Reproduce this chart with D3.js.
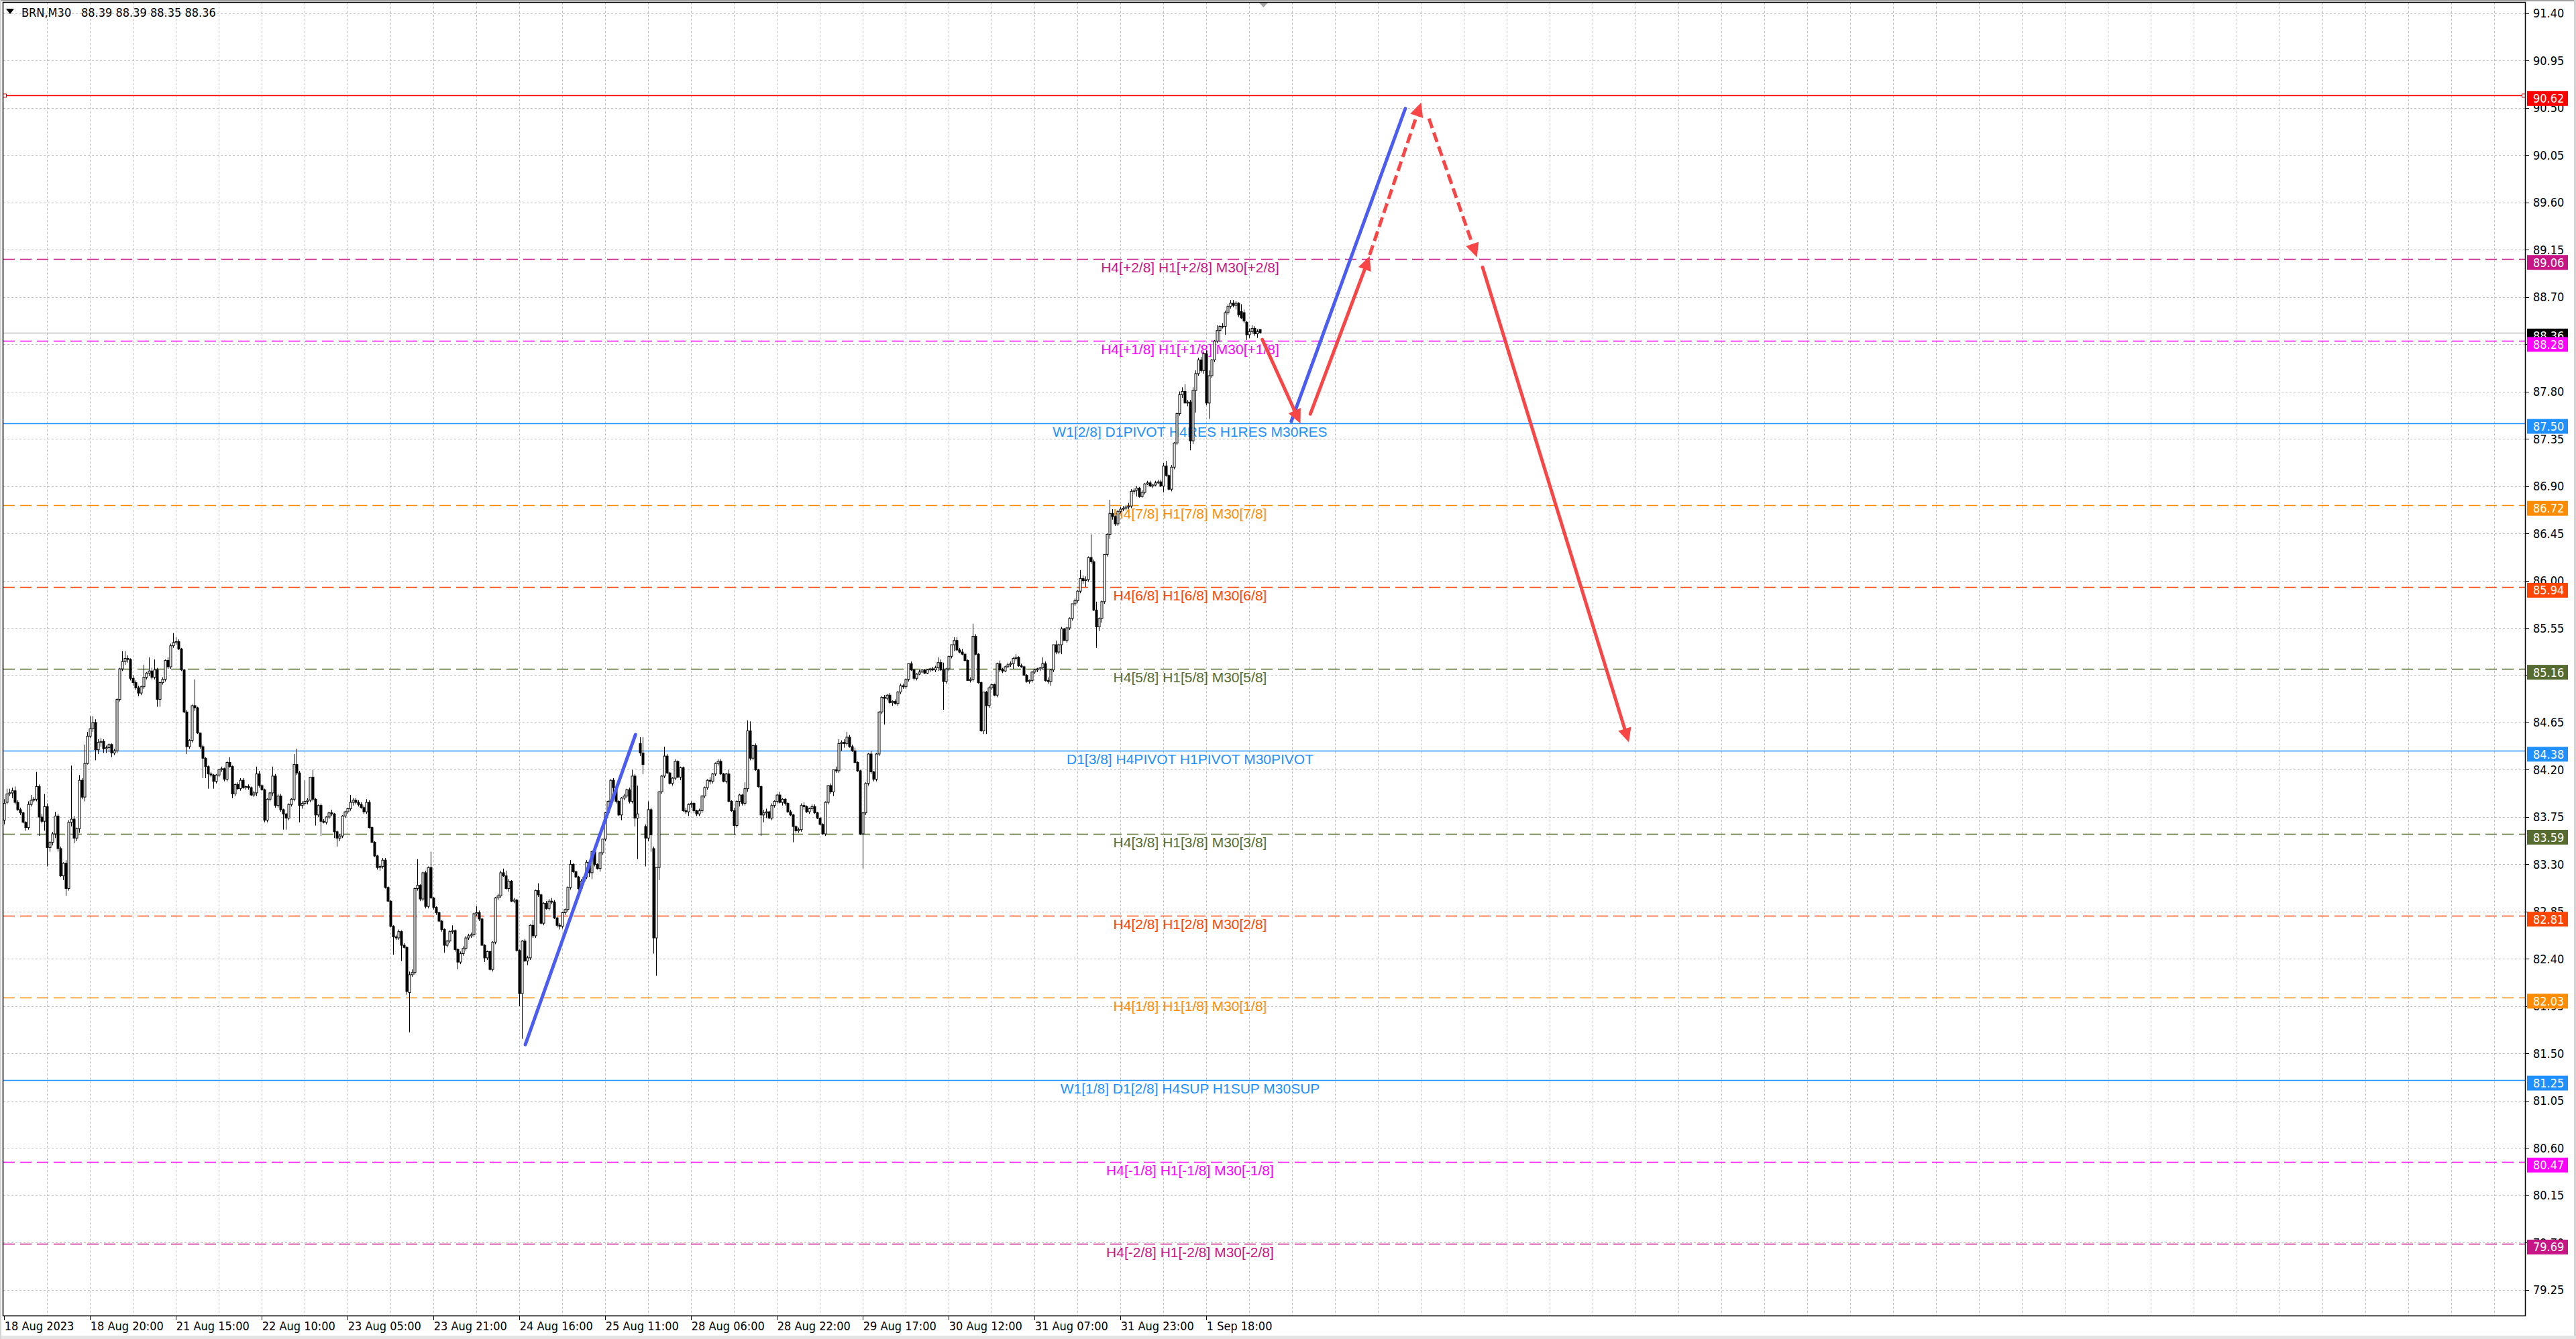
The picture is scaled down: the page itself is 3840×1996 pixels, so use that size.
<!DOCTYPE html>
<html>
<head>
<meta charset="utf-8">
<script src="https://cdn.jsdelivr.net/npm/d3@7"></script>
<style>
html, body { margin: 0; padding: 0; background: #fff; overflow: hidden; }
svg { display: block; }
</style>
</head>
<body>
<div id="chart"></div>
<script>
// BRN M30 candles, [open, high, low, close]
const bars = [
[83.72,83.92,83.68,83.88],[83.89,84.02,83.87,83.97],[83.97,84.02,83.95,83.98],[83.98,84.03,83.93,84.00],[84.00,84.04,83.87,83.89],
[83.89,83.91,83.81,83.82],[83.82,83.84,83.77,83.79],[83.79,83.80,83.69,83.70],[83.70,83.71,83.62,83.65],[83.65,83.90,83.63,83.87],
[83.87,83.96,83.85,83.91],[83.91,83.94,83.89,83.92],[83.92,84.18,83.90,84.04],[84.04,84.06,83.57,83.75],[83.75,83.78,83.69,83.71],
[83.71,83.97,83.62,83.85],[83.85,83.88,83.28,83.46],[83.46,83.52,83.42,83.51],[83.51,83.61,83.48,83.59],[83.59,83.80,83.55,83.76],
[83.76,83.78,83.42,83.45],[83.45,83.47,83.18,83.19],[83.19,83.32,83.15,83.31],[83.31,83.34,83.00,83.07],[83.07,83.72,83.05,83.70],
[83.70,84.24,83.66,83.73],[83.73,83.76,83.50,83.55],[83.55,83.65,83.52,83.64],[83.64,84.15,83.60,84.10],[84.10,84.12,83.92,83.94],
[83.94,84.44,83.90,84.26],[84.26,84.56,84.25,84.52],[84.52,84.71,84.50,84.59],[84.59,84.71,84.56,84.65],[84.65,84.68,84.29,84.39],
[84.39,84.49,84.35,84.46],[84.46,84.50,84.42,84.47],[84.47,84.49,84.36,84.40],[84.40,84.43,84.36,84.41],[84.41,84.45,84.37,84.44],
[84.44,84.45,84.32,84.36],[84.36,84.40,84.34,84.38],[84.38,84.88,84.36,84.87],[84.87,85.17,84.85,85.16],[85.16,85.33,85.14,85.23],
[85.23,85.33,85.20,85.26],[85.26,85.29,85.22,85.25],[85.25,85.26,85.05,85.07],[85.07,85.10,85.00,85.03],[85.03,85.05,84.96,84.98],
[84.98,85.00,84.90,84.93],[84.93,85.00,84.91,84.99],[84.99,85.20,84.97,85.08],[85.08,85.13,85.06,85.12],[85.12,85.27,85.09,85.14],
[85.14,85.17,85.06,85.08],[85.08,85.25,85.06,85.15],[85.15,85.17,84.80,84.87],[84.87,85.04,84.80,85.03],[85.03,85.08,85.01,85.06],
[85.06,85.25,85.04,85.24],[85.24,85.27,85.16,85.18],[85.18,85.40,85.16,85.38],[85.38,85.50,85.36,85.41],[85.41,85.46,85.39,85.42],
[85.42,85.44,85.34,85.35],[85.35,85.36,85.14,85.15],[85.15,85.16,84.74,84.75],[84.75,84.77,84.35,84.42],[84.42,84.49,84.40,84.48],
[84.48,84.82,84.46,84.81],[84.81,85.06,84.76,84.79],[84.79,84.80,84.54,84.55],[84.55,84.55,84.40,84.42],[84.42,84.44,84.12,84.31],
[84.31,84.32,84.12,84.23],[84.23,84.24,84.02,84.16],[84.16,84.18,84.13,84.15],[84.15,84.16,84.02,84.09],[84.09,84.16,84.07,84.15],
[84.15,84.21,84.13,84.20],[84.20,84.23,84.18,84.21],[84.21,84.22,84.09,84.11],[84.11,84.28,84.09,84.27],[84.27,84.32,84.22,84.23],
[84.23,84.24,83.93,83.97],[83.97,84.07,83.95,84.06],[84.06,84.08,84.01,84.02],[84.02,84.12,84.00,84.10],[84.10,84.12,84.02,84.03],
[84.03,84.05,84.01,84.04],[84.04,84.06,84.01,84.03],[84.03,84.04,83.95,83.96],[83.96,84.00,83.94,83.98],[83.98,84.23,83.95,84.16],
[84.16,84.19,84.03,84.05],[84.05,84.06,84.00,84.01],[84.01,84.02,83.70,83.72],[83.72,83.93,83.70,83.92],[83.92,83.99,83.90,83.98],
[83.98,84.23,83.95,84.14],[84.14,84.16,83.84,83.86],[83.86,83.97,83.84,83.95],[83.95,83.97,83.80,83.82],[83.82,83.83,83.63,83.78],
[83.78,83.79,83.63,83.74],[83.74,83.88,83.72,83.87],[83.87,83.93,83.85,83.92],[83.92,84.35,83.90,84.25],[84.25,84.40,84.15,84.17],
[84.17,84.19,83.70,83.86],[83.86,83.90,83.83,83.88],[83.88,84.10,83.86,83.90],[83.90,83.93,83.87,83.91],[83.91,84.13,83.89,84.13],
[84.13,84.20,83.90,83.92],[83.92,83.93,83.67,83.77],[83.77,83.87,83.75,83.86],[83.86,83.88,83.57,83.71],[83.71,83.73,83.69,83.70],
[83.70,83.76,83.68,83.75],[83.75,83.80,83.73,83.79],[83.79,83.82,83.76,83.78],[83.78,83.79,83.55,83.61],[83.61,83.62,83.47,83.55],
[83.55,83.59,83.52,83.57],[83.57,83.77,83.55,83.76],[83.76,83.81,83.74,83.80],[83.80,83.84,83.78,83.83],[83.83,83.96,83.81,83.89],
[83.89,83.93,83.86,83.91],[83.91,83.93,83.87,83.89],[83.89,83.91,83.85,83.87],[83.87,83.89,83.83,83.84],[83.84,83.86,83.78,83.80],
[83.80,83.92,83.78,83.89],[83.89,83.91,83.64,83.65],[83.65,83.66,83.50,83.51],[83.51,83.52,83.37,83.38],[83.38,83.39,83.25,83.27],
[83.27,83.30,83.24,83.28],[83.28,83.36,83.26,83.34],[83.34,83.36,83.07,83.08],[83.08,83.09,82.94,82.95],[82.95,82.96,82.70,82.71],
[82.71,82.72,82.44,82.61],[82.61,82.63,82.58,82.60],[82.60,82.68,82.58,82.66],[82.66,82.67,82.38,82.53],[82.53,82.55,82.50,82.51],
[82.51,82.52,82.06,82.09],[82.08,82.28,81.70,82.25],[82.25,82.30,82.23,82.27],[82.27,83.08,82.25,83.07],[83.07,83.35,83.05,83.10],
[83.10,83.11,82.95,82.97],[82.97,83.23,82.95,83.22],[83.22,83.24,82.88,82.90],[82.90,83.28,82.88,83.27],[83.27,83.42,82.97,82.98],
[82.98,82.99,82.87,82.89],[82.89,82.90,82.82,82.84],[82.84,82.85,82.75,82.76],[82.76,82.77,82.66,82.68],[82.68,82.69,82.46,82.53],
[82.53,82.58,82.51,82.57],[82.57,82.67,82.55,82.66],[82.66,82.72,82.64,82.67],[82.67,82.68,82.47,82.49],[82.49,82.50,82.30,82.37],
[82.37,82.47,82.35,82.45],[82.45,82.52,82.43,82.50],[82.50,82.62,82.48,82.60],[82.60,82.64,82.58,82.62],[82.62,82.65,82.60,82.63],
[82.63,82.84,82.61,82.83],[82.83,82.90,82.81,82.84],[82.84,82.86,82.76,82.78],[82.78,82.79,82.53,82.53],[82.53,82.54,82.37,82.41],
[82.41,82.48,82.39,82.47],[82.47,82.48,82.29,82.30],[82.30,82.57,82.28,82.56],[82.56,82.99,82.54,82.98],[82.98,83.02,82.96,83.00],
[83.00,83.24,82.98,83.22],[83.22,83.26,83.18,83.19],[83.19,83.24,83.06,83.07],[83.07,83.16,83.04,83.14],[83.14,83.15,82.94,82.95],
[82.95,82.98,82.93,82.96],[82.96,82.97,82.47,82.48],[82.48,82.49,81.95,82.07],[82.07,82.58,81.64,82.57],[82.57,82.59,82.37,82.38],
[82.38,82.43,82.34,82.41],[82.41,82.73,82.39,82.72],[82.72,82.77,82.60,82.62],[82.62,83.06,82.60,83.05],[83.05,83.12,82.99,83.01],
[83.01,83.02,82.73,82.74],[82.74,82.94,82.72,82.93],[82.93,82.95,82.87,82.88],[82.88,82.97,82.86,82.95],[82.95,82.98,82.92,82.94],
[82.94,82.96,82.78,82.79],[82.79,82.80,82.70,82.72],[82.72,82.74,82.68,82.71],[82.71,82.85,82.69,82.84],[82.84,82.88,82.82,82.87],
[82.87,83.09,82.85,83.08],[83.08,83.34,83.06,83.30],[83.30,83.31,83.22,83.23],[83.23,83.24,83.17,83.18],[83.18,83.19,83.06,83.07],
[83.07,83.16,83.05,83.14],[83.14,83.19,83.12,83.18],[83.18,83.34,83.16,83.32],[83.32,83.33,83.18,83.22],[83.22,83.43,83.16,83.42],
[83.42,83.44,83.28,83.30],[83.30,83.31,83.25,83.26],[83.26,83.42,83.23,83.41],[83.41,83.54,83.39,83.54],[83.54,83.80,83.52,83.79],
[83.79,83.91,83.77,83.90],[83.90,84.11,83.88,84.10],[84.10,84.12,83.93,84.03],[84.03,84.05,83.88,83.90],[83.90,83.91,83.76,83.77],
[83.77,83.94,83.72,83.93],[83.93,83.97,83.91,83.95],[83.95,84.02,83.93,84.01],[84.01,84.03,83.88,83.90],[83.90,84.20,83.88,84.14],
[84.14,84.16,83.66,83.74],[83.74,84.05,83.35,83.78],[84.45,84.51,84.33,84.36],[84.36,84.51,84.16,84.25],[83.66,83.68,83.28,83.55],
[83.55,83.90,83.52,83.82],[83.82,83.84,83.42,83.58],[83.45,83.47,82.45,82.60],[82.60,83.27,82.24,83.27],[83.27,84.00,83.15,83.99],
[83.99,84.15,83.97,84.14],[84.14,84.42,84.12,84.33],[84.33,84.35,84.16,84.17],[84.17,84.18,84.06,84.07],[84.07,84.13,84.05,84.12],
[84.12,84.30,84.10,84.28],[84.28,84.29,84.12,84.13],[84.13,84.23,84.10,84.22],[84.22,84.23,83.80,83.81],[83.81,83.84,83.78,83.80],
[83.80,83.88,83.76,83.87],[83.87,83.90,83.84,83.88],[83.88,83.89,83.79,83.81],[83.81,83.82,83.76,83.78],[83.78,83.83,83.76,83.81],
[83.81,83.96,83.79,83.95],[83.95,84.04,83.93,84.03],[84.03,84.11,84.01,84.10],[84.10,84.13,84.06,84.09],[84.09,84.17,84.07,84.16],
[84.16,84.27,84.14,84.26],[84.26,84.30,84.24,84.28],[84.28,84.30,84.15,84.16],[84.16,84.17,84.08,84.09],[84.09,84.17,84.07,84.16],
[84.16,84.20,83.89,83.90],[83.90,83.91,83.80,83.81],[83.81,83.84,83.58,83.67],[83.67,83.91,83.65,83.90],[83.90,83.97,83.85,83.96],
[83.96,83.97,83.86,83.88],[83.88,84.08,83.86,84.02],[84.02,84.67,83.99,84.57],[84.57,84.66,84.29,84.31],[84.31,84.44,84.29,84.43],
[84.43,84.45,84.19,84.20],[84.20,84.21,84.03,84.04],[84.04,84.05,83.57,83.77],[83.77,83.82,83.70,83.79],[83.79,83.83,83.74,83.80],
[83.80,83.81,83.73,83.74],[83.74,83.88,83.72,83.86],[83.86,83.91,83.84,83.90],[83.90,83.97,83.88,83.96],[83.96,83.99,83.88,83.89],
[83.89,83.93,83.86,83.92],[83.92,83.93,83.86,83.88],[83.88,83.89,83.79,83.80],[83.80,83.82,83.76,83.77],[83.77,83.78,83.51,83.66],
[83.66,83.67,83.60,83.62],[83.62,83.65,83.60,83.63],[83.63,83.88,83.61,83.86],[83.86,83.89,83.82,83.85],[83.85,83.86,83.79,83.80],
[83.80,83.84,83.78,83.83],[83.83,83.87,83.81,83.85],[83.85,83.87,83.78,83.79],[83.79,83.80,83.73,83.74],[83.74,83.75,83.67,83.68],
[83.68,83.69,83.58,83.59],[83.59,83.90,83.57,83.89],[83.89,84.05,83.87,84.05],[84.05,84.07,83.97,83.99],[83.99,84.20,83.95,84.20],
[84.20,84.23,84.17,84.19],[84.19,84.49,84.17,84.45],[84.45,84.48,84.38,84.46],[84.46,84.49,84.41,84.45],[84.45,84.56,84.43,84.51],
[84.51,84.53,84.41,84.42],[84.42,84.44,84.37,84.38],[84.38,84.41,84.26,84.27],[84.27,84.28,84.18,84.19],[84.19,84.20,83.58,83.59],
[83.59,83.80,83.26,83.79],[83.79,84.08,83.77,84.07],[84.07,84.36,84.05,84.35],[84.35,84.38,84.16,84.18],[84.18,84.19,84.09,84.11],
[84.11,84.36,84.09,84.35],[84.35,84.76,84.33,84.75],[84.75,84.90,84.73,84.89],[84.89,84.91,84.63,84.88],[84.88,84.92,84.86,84.91],
[84.91,84.93,84.83,84.84],[84.84,84.86,84.81,84.85],[84.85,84.87,84.82,84.83],[84.83,84.95,84.81,84.94],[84.94,85.02,84.92,85.00],
[85.00,85.02,84.97,84.99],[84.99,85.07,84.97,85.06],[85.06,85.21,85.04,85.21],[85.21,85.23,85.14,85.15],[85.15,85.16,85.05,85.07],
[85.07,85.12,85.05,85.11],[85.11,85.15,85.10,85.13],[85.13,85.16,85.12,85.15],[85.15,85.16,85.11,85.12],[85.12,85.16,85.11,85.15],
[85.15,85.17,85.13,85.16],[85.16,85.18,85.14,85.15],[85.15,85.19,85.13,85.17],[85.17,85.27,85.14,85.22],[85.22,85.25,85.14,85.15],
[85.15,85.22,84.77,85.04],[85.04,85.17,85.02,85.16],[85.16,85.28,85.14,85.28],[85.28,85.39,85.26,85.39],[85.39,85.46,85.33,85.43],
[85.43,85.46,85.33,85.34],[85.34,85.36,85.31,85.32],[85.32,85.35,85.29,85.30],[85.30,85.31,85.23,85.24],[85.24,85.25,85.05,85.05],
[85.05,85.08,85.03,85.06],[85.06,85.59,85.04,85.47],[85.47,85.49,85.29,85.30],[85.30,85.31,85.02,85.03],[85.03,85.04,84.56,84.57],
[84.57,84.94,84.54,84.94],[84.94,84.95,84.54,84.81],[84.81,85.00,84.79,84.98],[84.98,85.02,84.96,85.01],[85.01,85.02,84.90,84.91],
[84.91,85.22,84.89,85.21],[85.21,85.24,85.13,85.15],[85.15,85.17,85.12,85.14],[85.14,85.19,85.13,85.18],[85.18,85.22,85.17,85.20],
[85.20,85.23,85.18,85.21],[85.21,85.27,85.16,85.26],[85.26,85.30,85.24,85.27],[85.27,85.28,85.18,85.19],[85.19,85.21,85.17,85.18],
[85.18,85.19,85.09,85.10],[85.10,85.11,85.03,85.04],[85.04,85.06,85.02,85.05],[85.05,85.14,85.03,85.13],[85.13,85.16,85.11,85.15],
[85.15,85.17,85.13,85.16],[85.16,85.18,85.14,85.17],[85.17,85.27,85.15,85.21],[85.21,85.23,85.04,85.05],[85.05,85.08,85.02,85.04],
[85.04,85.16,85.00,85.15],[85.15,85.39,85.13,85.39],[85.39,85.43,85.30,85.32],[85.32,85.40,85.30,85.39],[85.39,85.56,85.30,85.54],
[85.54,85.55,85.43,85.43],[85.43,85.56,85.41,85.55],[85.55,85.65,85.53,85.64],[85.64,85.78,85.62,85.78],[85.78,85.83,85.76,85.81],
[85.81,85.91,85.79,85.90],[85.90,86.10,85.88,86.02],[86.02,86.05,85.97,86.00],[86.00,86.04,85.94,86.01],[86.01,86.23,85.99,86.22],
[86.22,86.44,86.16,86.18],[86.18,86.20,85.71,85.72],[85.72,85.80,85.36,85.56],[85.56,85.65,85.52,85.64],[85.64,85.81,85.60,85.80],
[85.80,86.25,85.78,86.25],[86.25,86.45,86.23,86.44],[86.44,86.77,86.40,86.64],[86.64,86.68,86.58,86.61],[86.61,86.62,86.52,86.54],
[86.54,86.67,86.52,86.66],[86.66,86.70,86.64,86.68],[86.68,86.71,86.66,86.69],[86.69,86.72,86.67,86.70],[86.70,86.74,86.68,86.71],
[86.71,86.87,86.69,86.85],[86.85,86.88,86.82,86.86],[86.86,86.90,86.80,86.88],[86.88,86.89,86.79,86.80],[86.80,86.86,86.79,86.84],
[86.84,86.93,86.82,86.92],[86.92,86.95,86.91,86.93],[86.93,86.95,86.89,86.90],[86.90,86.92,86.88,86.91],[86.91,86.95,86.90,86.93],
[86.93,86.96,86.92,86.94],[86.94,86.96,86.89,86.90],[86.90,87.12,86.84,87.09],[87.09,87.14,86.99,87.00],[87.00,87.01,86.86,86.87],
[86.87,87.10,86.85,87.08],[87.08,87.32,87.06,87.31],[87.31,87.60,87.29,87.59],[87.59,87.80,87.57,87.77],[87.77,87.84,87.74,87.80],
[87.80,87.87,87.69,87.69],[87.69,87.72,87.66,87.70],[87.70,87.72,87.24,87.33],[87.33,87.84,87.30,87.81],[87.81,88.00,87.60,87.97],
[87.97,88.12,87.95,88.10],[88.10,88.13,87.98,88.00],[88.00,88.18,87.97,88.16],[88.16,88.19,87.67,87.69],[87.69,88.00,87.54,87.95],
[87.95,88.11,87.93,88.10],[88.10,88.29,88.08,88.28],[88.28,88.43,88.26,88.38],[88.38,88.43,88.27,88.42],[88.42,88.45,88.40,88.42],
[88.42,88.57,88.34,88.55],[88.55,88.63,88.53,88.61],[88.61,88.67,88.59,88.64],[88.64,88.67,88.60,88.62],[88.62,88.66,88.58,88.64],
[88.64,88.65,88.51,88.53],[88.56,88.63,88.49,88.50],[88.55,88.58,88.45,88.47],[88.46,88.47,88.29,88.34],[88.34,88.40,88.31,88.37],
[88.37,88.43,88.35,88.40],[88.40,88.42,88.33,88.35],[88.35,88.39,88.31,88.37],[88.39,88.39,88.35,88.36]
];

// price axis ticks
const priceTicks = [91.40, 90.95, 90.50, 90.05, 89.60, 89.15, 88.70, 88.25, 87.80, 87.35, 86.90, 86.45, 86.00,
  85.55, 85.10, 84.65, 84.20, 83.75, 83.30, 82.85, 82.40, 81.95, 81.50, 81.05, 80.60, 80.15, 79.70, 79.25];

// time axis labels and the bar they sit on
const timeLabels = ['18 Aug 2023', '18 Aug 20:00', '21 Aug 15:00', '22 Aug 10:00', '23 Aug 05:00', '23 Aug 21:00',
  '24 Aug 16:00', '25 Aug 11:00', '28 Aug 06:00', '28 Aug 22:00', '29 Aug 17:00', '30 Aug 12:00', '31 Aug 07:00',
  '31 Aug 23:00', '1 Sep 18:00'];
const timeLabelBars = [0, 32, 64, 96, 128, 160, 192, 224, 256, 288, 320, 352, 384, 416, 448];

// Murrey / pivot levels
const levelPrices = [90.62, 89.06, 88.28, 87.50, 86.72, 85.94, 85.16, 84.38, 83.59, 82.81, 82.03, 81.25, 80.47, 79.69];
const levelColors = ['#ff0000', '#c71585', '#ff00ff', '#1e90ff', '#ff8c00', '#ff4500', '#556b2f',
  '#1e90ff', '#556b2f', '#ff4500', '#ff8c00', '#1e90ff', '#ff00ff', '#c71585'];
const levelDashed = [false, true, true, false, true, true, true, false, true, true, true, false, true, true];
const levelLabels = ['', 'H4[+2/8] H1[+2/8] M30[+2/8]', 'H4[+1/8] H1[+1/8] M30[+1/8]',
  'W1[2/8] D1PIVOT H4RES H1RES M30RES', 'H4[7/8] H1[7/8] M30[7/8]', 'H4[6/8] H1[6/8] M30[6/8]',
  'H4[5/8] H1[5/8] M30[5/8]', 'D1[3/8] H4PIVOT H1PIVOT M30PIVOT', 'H4[3/8] H1[3/8] M30[3/8]',
  'H4[2/8] H1[2/8] M30[2/8]', 'H4[1/8] H1[1/8] M30[1/8]', 'W1[1/8] D1[2/8] H4SUP H1SUP M30SUP',
  'H4[-1/8] H1[-1/8] M30[-1/8]', 'H4[-2/8] H1[-2/8] M30[-2/8]'];

const lastPrice = 88.36;
const header = ['BRN,M30', '88.39 88.39 88.35 88.36'];

// hand drawn forecast lines: [bar, price] start and end
const trendFrom = [[194.35, 81.585], [479.8, 87.516], [469.0, 88.294], [486.9, 87.586], [509.0, 89.10], [531.1, 90.397], [551.1, 88.982]];
const trendTo   = [[235.4, 84.534], [522.3, 90.493], [483.2, 87.495], [509.0, 89.088], [528.2, 90.55], [549.0, 89.077], [605.6, 84.461]];
const trendColors = ['#4a5cf2', '#4a5cf2', '#f84545', '#f84545', '#f84545', '#f84545', '#f84545'];
const trendDashed = [false, false, false, false, true, true, false];
const trendArrow  = [false, false, true, true, true, true, true];

// ---- layout ----
const W = 3840, H = 1996;
const plot = { left: 5, right: 3765, top: 4, bottom: 1962 };
const axisFont = "'DejaVu Sans Condensed', 'Liberation Sans', Arial, sans-serif";

const x = d3.scaleLinear().domain([0, 468]).range([5.7, 1877.7]);
const y = d3.scaleLinear().domain([79.0, 91.5]).range([plot.bottom, plot.top]);

const svg = d3.select('#chart').append('svg')
  .attr('width', W)
  .attr('height', H);

svg.append('rect').attr('width', W).attr('height', H).attr('fill', '#fff');

svg.append('defs').append('clipPath').attr('id', 'clip')
  .append('rect')
  .attr('x', plot.left).attr('y', plot.top)
  .attr('width', plot.right - plot.left).attr('height', plot.bottom - plot.top);

const gPlot = svg.append('g').attr('clip-path', 'url(#clip)');

// grid
const gridBars = d3.range(16, 1000, 16).filter(b => x(b) < plot.right - 2);
gPlot.append('g').selectAll('line')
  .data(gridBars)
  .join('line')
  .attr('x1', d => Math.round(x(d)) + 0.5).attr('x2', d => Math.round(x(d)) + 0.5)
  .attr('y1', plot.top).attr('y2', plot.bottom)
  .attr('stroke', '#c0c0c0').attr('stroke-dasharray', '3,3').attr('stroke-width', 1);

gPlot.append('g').selectAll('line')
  .data(priceTicks)
  .join('line')
  .attr('x1', plot.left).attr('x2', plot.right)
  .attr('y1', d => Math.round(y(d)) + 0.5).attr('y2', d => Math.round(y(d)) + 0.5)
  .attr('stroke', '#c0c0c0').attr('stroke-dasharray', '3,3').attr('stroke-width', 1);

// level lines
gPlot.append('g').selectAll('line')
  .data(levelPrices)
  .join('line')
  .attr('x1', plot.left).attr('x2', plot.right)
  .attr('y1', d => Math.round(y(d)) + 0.5).attr('y2', d => Math.round(y(d)) + 0.5)
  .attr('stroke', (d, i) => levelColors[i])
  .attr('stroke-width', 1.3)
  .attr('stroke-dasharray', (d, i) => levelDashed[i] ? '17,8' : null);

// little selection squares on the red line
[plot.left + 2, plot.right - 3].forEach(sx => {
  gPlot.append('rect')
    .attr('x', sx - 2.5).attr('y', Math.round(y(levelPrices[0])) - 2)
    .attr('width', 5).attr('height', 5)
    .attr('fill', '#fff').attr('stroke', '#ff0000').attr('stroke-width', 1);
});

// level captions
gPlot.append('g').selectAll('text')
  .data(levelPrices)
  .join('text')
  .attr('x', 1774)
  .attr('y', d => y(d) + 20)
  .attr('text-anchor', 'middle')
  .attr('font-family', "'Liberation Sans', Arial, sans-serif")
  .attr('font-size', 21)
  .attr('fill', (d, i) => levelColors[i])
  .text((d, i) => levelLabels[i]);

// current price line
gPlot.append('line')
  .attr('x1', plot.left).attr('x2', plot.right)
  .attr('y1', Math.round(y(lastPrice)) + 0.5).attr('y2', Math.round(y(lastPrice)) + 0.5)
  .attr('stroke', '#c0c0c0').attr('stroke-width', 1.3);

// candles
const gc = gPlot.append('g');
gc.selectAll('line')
  .data(bars)
  .join('line')
  .attr('x1', (d, i) => Math.round(x(i)) + 0.5).attr('x2', (d, i) => Math.round(x(i)) + 0.5)
  .attr('y1', d => y(d[1])).attr('y2', d => y(d[2]))
  .attr('stroke', '#000').attr('stroke-width', 1);

gc.selectAll('rect')
  .data(bars)
  .join('rect')
  .attr('x', (d, i) => Math.round(x(i)) - 1)
  .attr('width', 3)
  .attr('y', d => y(Math.max(d[0], d[3])))
  .attr('height', d => Math.max(1, Math.abs(y(d[0]) - y(d[3]))))
  .attr('fill', d => d[3] >= d[0] ? '#fff' : '#000')
  .attr('stroke', '#000').attr('stroke-width', 1);

// forecast lines
const gt = gPlot.append('g');
trendFrom.forEach((from, i) => {
  const x1 = x(from[0]), y1 = y(from[1]);
  const x2 = x(trendTo[i][0]), y2 = y(trendTo[i][1]);
  const len = Math.hypot(x2 - x1, y2 - y1);
  const ux = (x2 - x1) / len, uy = (y2 - y1) / len;
  const head = trendArrow[i] ? 19 : 0;
  gt.append('line')
    .attr('x1', x1).attr('y1', y1)
    .attr('x2', x2 - ux * head).attr('y2', y2 - uy * head)
    .attr('stroke', trendColors[i])
    .attr('stroke-width', 5)
    .attr('stroke-linecap', trendDashed[i] ? 'butt' : 'round')
    .attr('stroke-dasharray', trendDashed[i] ? '15,7' : null);
  if (trendArrow[i]) {
    const bx = x2 - ux * 21, by = y2 - uy * 21;
    const pts = [[x2, y2], [bx - uy * 10, by + ux * 10], [bx + uy * 10, by - ux * 10]];
    gt.append('polygon')
      .attr('points', pts.map(p => p.join(',')).join(' '))
      .attr('fill', trendColors[i]);
  }
});

// chart shift marker
svg.append('polygon')
  .attr('points', '1876,3 1891,3 1883.5,11')
  .attr('fill', '#a8a8a8');

// frame
svg.append('rect')
  .attr('x', plot.left - 0.5).attr('y', plot.top - 0.5)
  .attr('width', plot.right - plot.left).attr('height', plot.bottom - plot.top)
  .attr('fill', 'none').attr('stroke', '#000').attr('stroke-width', 1.5);

// price axis
const gy = svg.append('g');
gy.selectAll('line')
  .data(priceTicks)
  .join('line')
  .attr('x1', plot.right).attr('x2', plot.right + 5)
  .attr('y1', d => Math.round(y(d)) + 0.5).attr('y2', d => Math.round(y(d)) + 0.5)
  .attr('stroke', '#000');
gy.selectAll('text')
  .data(priceTicks)
  .join('text')
  .attr('x', 3776)
  .attr('y', d => y(d) + 6.5)
  .attr('font-family', axisFont)
  .attr('font-size', 18)
  .attr('fill', '#000')
  .text(d => d.toFixed(2));

// price boxes: last price first, then the levels
const boxPrices = [lastPrice].concat(levelPrices.slice(0, 2), levelPrices.slice(2));
const boxColors = ['#000'].concat(levelColors);
const boxOrder = [1, 2, 0, 3, 4, 5, 6, 7, 8, 9, 10, 11, 12, 13, 14];
const gb = svg.append('g');
boxOrder.forEach(k => {
  const py = y(boxPrices[k]);
  gb.append('rect')
    .attr('x', 3767).attr('y', py - 6)
    .attr('width', 61).attr('height', 22)
    .attr('fill', boxColors[k]);
  gb.append('text')
    .attr('x', 3776).attr('y', py + 11.5)
    .attr('font-family', axisFont)
    .attr('font-size', 18)
    .attr('fill', '#fff')
    .text(boxPrices[k].toFixed(2));
});

// time axis
const gx = svg.append('g');
gx.selectAll('line')
  .data(timeLabelBars)
  .join('line')
  .attr('x1', d => Math.round(x(d)) + 0.5).attr('x2', d => Math.round(x(d)) + 0.5)
  .attr('y1', plot.bottom).attr('y2', plot.bottom + 6)
  .attr('stroke', '#000');
gx.selectAll('text')
  .data(timeLabelBars)
  .join('text')
  .attr('x', d => x(d) + 1)
  .attr('y', 1983)
  .attr('font-family', axisFont)
  .attr('font-size', 18)
  .attr('fill', '#000')
  .text((d, i) => timeLabels[i]);

// header
svg.append('polygon').attr('points', '9,13 21,13 15,21').attr('fill', '#000');
svg.append('text').attr('x', 32).attr('y', 25)
  .attr('font-family', axisFont).attr('font-size', 18).attr('fill', '#000')
  .text(header[0]);
svg.append('text').attr('x', 121).attr('y', 25)
  .attr('font-family', axisFont).attr('font-size', 18).attr('fill', '#000')
  .text(header[1]);

// window edges
svg.append('rect').attr('x', 0).attr('y', 0).attr('width', W).attr('height', 2).attr('fill', '#a0a0a0');
svg.append('rect').attr('x', 3837).attr('y', 0).attr('width', 3).attr('height', H).attr('fill', '#d4d4d4');
svg.append('rect').attr('x', 0).attr('y', 1991).attr('width', W).attr('height', 5).attr('fill', '#e4e4e4');
svg.append('rect').attr('x', 0).attr('y', 0).attr('width', 2).attr('height', H).attr('fill', '#d4d4d4');
</script>
</body>
</html>
